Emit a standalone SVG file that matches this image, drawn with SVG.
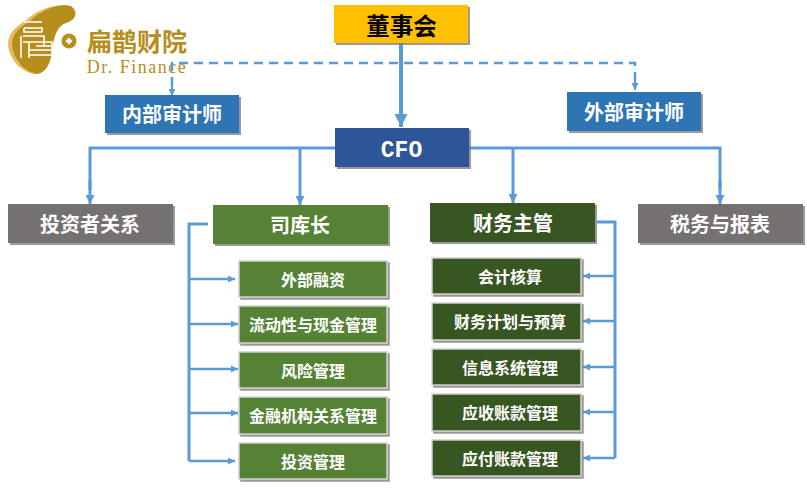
<svg xmlns="http://www.w3.org/2000/svg" width="807" height="489" viewBox="0 0 807 489">
<style>
text{font-family:"Noto Sans CJK SC","Liberation Sans",sans-serif;text-anchor:middle;font-weight:700;fill:#fff}
.s{filter:url(#sh)}
.t1{font-size:20px}
.t2{font-size:16px}
.c{fill:none;stroke:#5b9bd5}
.b3{stroke-width:3}
.b2{stroke-width:2.500}
.sub{stroke:#d0d0d0;stroke-width:1.500}
.g{fill:#548235}
.d{fill:#375623}
.gy{fill:#767171}
.bl{fill:#2e75b6}
</style>
<defs>
<filter id="sh" x="-5%" y="-10%" width="110%" height="125%"><feDropShadow dx="2" dy="2" stdDeviation="0.3" flood-color="#777" flood-opacity="0.75"/></filter>
<marker id="ad" viewBox="0 0 10 10" refX="10" refY="5" markerUnits="userSpaceOnUse" markerWidth="7" markerHeight="7" orient="auto"><path d="M0 0L10 5L0 10z" fill="#5b9bd5"/></marker>
<marker id="am" viewBox="0 0 10 10" refX="10" refY="5" markerUnits="userSpaceOnUse" markerWidth="9" markerHeight="9" orient="auto"><path d="M0 0L10 5L0 10z" fill="#5b9bd5"/></marker>
<marker id="ab" viewBox="0 0 10 10" refX="10" refY="5" markerUnits="userSpaceOnUse" markerWidth="13" markerHeight="13" orient="auto"><path d="M0 0L10 5L0 10z" fill="#5b9bd5"/></marker>
<marker id="al" viewBox="0 0 10 10" refX="10" refY="5" markerUnits="userSpaceOnUse" markerWidth="7" markerHeight="7" orient="auto"><path d="M0 0L10 5L0 10z" fill="#5b9bd5"/></marker>
</defs>
<g id="logo">
<path d="M25 21C38 8 58 3 70 6C78 12 75 20 66 22C58 24 54 32 52 42C51 58 48 72 36 74C22 73 9 60 8 44C8 34 15 27 25 21Z" fill="#e8bb5e"/>
<path d="M30 21C42 9 60 3 71 6C79 12 76 20 66 23C58 26 55 34 53 44C52 58 49 71 38 74C26 73 13 60 12 44C12 34 20 27 30 21Z" fill="#b58e1e"/>
<path d="M21 36V58M24 22H42M24 28H42V32M24 28V32H42M23 36H44V42M23 42H52V60M29 42V58M36 46H52M29 50H52M29 55H52M44 42V47" fill="none" stroke="#fff" stroke-width="1.600"/>
<circle cx="69" cy="41" r="7.500" fill="#b58e1e"/><rect x="66.500" y="38.500" width="5" height="5" fill="#fff" transform="rotate(45 69 41)"/>
<text x="137" y="51" style="font-family:'Noto Sans CJK SC',serif;font-size:25px;font-weight:700;fill:#b58e1e">扁鹊财院</text>
<text x="137" y="73" style="font-family:'Liberation Serif',serif;font-size:18px;font-weight:400;letter-spacing:1.500px;fill:#b58e1e">Dr. Finance</text>
</g>
<g id="connectors">
<path class="c" stroke-width="2.500" stroke-dasharray="9 6" d="M172 86V63H635V80"/>
<path class="c" stroke-width="2" marker-end="url(#ad)" d="M172 86V96"/>
<path class="c" stroke-width="2" marker-end="url(#ad)" d="M635 80V90"/>
<path class="c" style="stroke-width:4" marker-end="url(#ab)" d="M401 43V127"/>
<path class="c b3" d="M335 148H90V190"/>
<path class="c b3" marker-end="url(#am)" d="M90 180V204"/>
<path class="c b3" marker-end="url(#am)" d="M300 148V205"/>
<path class="c b3" d="M469 148H720V190"/>
<path class="c b3" marker-end="url(#am)" d="M513 148V203"/>
<path class="c b3" marker-end="url(#am)" d="M720 180V204"/>
<path class="c b3" d="M208 224H189V461"/>
<path class="c b2" marker-end="url(#al)" d="M189 279H235"/>
<path class="c b2" marker-end="url(#al)" d="M189 324H238"/>
<path class="c b2" marker-end="url(#al)" d="M189 369H238"/>
<path class="c b2" marker-end="url(#al)" d="M189 413H238"/>
<path class="c b2" marker-end="url(#al)" d="M189 461H235"/>
<path class="c b3" d="M597 222H615V458"/>
<path class="c b2" marker-end="url(#al)" d="M615 276H583"/>
<path class="c b2" marker-end="url(#al)" d="M615 321H583"/>
<path class="c b2" marker-end="url(#al)" d="M615 367H583"/>
<path class="c b2" marker-end="url(#al)" d="M615 412H583"/>
<path class="c b2" marker-end="url(#al)" d="M615 458H583"/>
</g>
<g id="board"><rect class="s" x="334" y="5" width="134" height="38" fill="#ffc000"/><text x="401.500" y="35" style="fill:#000;font-size:23.500px">董事会</text></g>
<g id="internal-audit"><rect class="s bl" x="105" y="95" width="134" height="38"/><text class="t1" x="172" y="122">内部审计师</text></g>
<g id="external-audit"><rect class="s bl" x="567" y="92" width="134" height="39"/><text class="t1" x="634" y="120">外部审计师</text></g>
<g id="cfo"><rect class="s" x="335" y="128" width="134" height="39" fill="#2f5597"/><text x="401.500" y="157" style="font-family:'Liberation Mono',monospace;font-size:23px">CFO</text></g>
<g id="ir"><rect class="s gy" x="8" y="204" width="165" height="39"/><text class="t1" x="90" y="232">投资者关系</text></g>
<g id="treasurer"><rect class="s g" x="213" y="205" width="175" height="39"/><text class="t1" x="300" y="233">司库长</text></g>
<g id="controller"><rect class="s d" x="430" y="203" width="165" height="39"/><text class="t1" x="513" y="231">财务主管</text></g>
<g id="tax"><rect class="s gy" x="638" y="204" width="165" height="39"/><text class="t1" x="720" y="232">税务与报表</text></g>
<g id="l1"><rect class="s g sub" x="239" y="261" width="148" height="36"/><text class="t2" x="313" y="286">外部融资</text></g>
<g id="l2"><rect class="s g sub" x="239" y="306" width="148" height="37"/><text class="t2" x="313" y="331">流动性与现金管理</text></g>
<g id="l3"><rect class="s g sub" x="239" y="352" width="148" height="36"/><text class="t2" x="313" y="377">风险管理</text></g>
<g id="l4"><rect class="s g sub" x="239" y="397" width="148" height="37"/><text class="t2" x="313" y="422">金融机构关系管理</text></g>
<g id="l5"><rect class="s g sub" x="239" y="443" width="148" height="36"/><text class="t2" x="313" y="468">投资管理</text></g>
<g id="r1"><rect class="s d sub" x="432" y="258" width="149" height="36"/><text class="t2" x="510" y="283">会计核算</text></g>
<g id="r2"><rect class="s d sub" x="432" y="303" width="149" height="37"/><text class="t2" x="510" y="328">财务计划与预算</text></g>
<g id="r3"><rect class="s d sub" x="432" y="349" width="149" height="36"/><text class="t2" x="510" y="374">信息系统管理</text></g>
<g id="r4"><rect class="s d sub" x="432" y="394" width="149" height="37"/><text class="t2" x="510" y="419">应收账款管理</text></g>
<g id="r5"><rect class="s d sub" x="432" y="440" width="149" height="36"/><text class="t2" x="510" y="465">应付账款管理</text></g>
</svg>
